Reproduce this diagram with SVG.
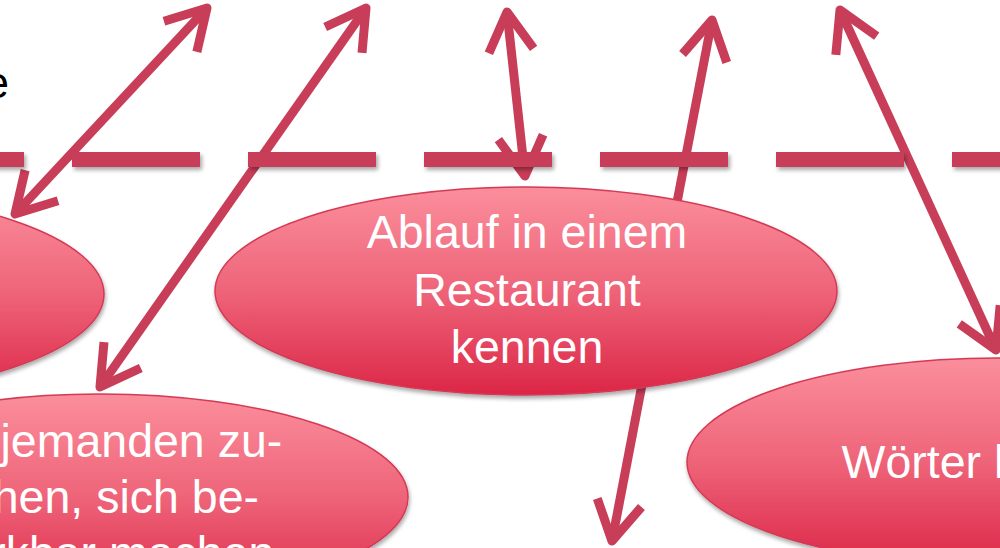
<svg xmlns="http://www.w3.org/2000/svg" width="1000" height="548" viewBox="0 0 1000 548">
  <defs>
    <linearGradient id="fillG" x1="0" y1="0" x2="0" y2="1">
      <stop offset="0" stop-color="#FB8E9C"/>
      <stop offset="0.5" stop-color="#EE6479"/>
      <stop offset="1" stop-color="#DC2647"/>
    </linearGradient>
    <filter id="sh" x="-10%" y="-10%" width="120%" height="130%">
      <feGaussianBlur in="SourceAlpha" stdDeviation="2"/>
      <feOffset dx="1" dy="3" result="b"/>
      <feComponentTransfer><feFuncA type="linear" slope="0.35"/></feComponentTransfer>
      <feMerge><feMergeNode/><feMergeNode in="SourceGraphic"/></feMerge>
    </filter>
    <filter id="dsh" filterUnits="userSpaceOnUse" x="-200" y="130" width="1400" height="60">
      <feGaussianBlur in="SourceAlpha" stdDeviation="2"/>
      <feOffset dx="2" dy="3" result="b"/>
      <feComponentTransfer><feFuncA type="linear" slope="0.35"/></feComponentTransfer>
      <feMerge><feMergeNode/><feMergeNode in="SourceGraphic"/></feMerge>
    </filter>
    <marker id="head" markerUnits="userSpaceOnUse" viewBox="-50 -30 60 60" markerWidth="60" markerHeight="60" refX="0" refY="0" orient="auto-start-reverse" overflow="visible">
      <path d="M -39 -22.5 L 0 0 L -39 22.5" fill="none" stroke="#C83D58" stroke-width="9" stroke-linejoin="round" stroke-linecap="butt"/>
    </marker>
    <style>
      .arr { fill: none; stroke: #C83D58; stroke-width: 9; marker-start: url(#head); marker-end: url(#head); }
      .dash { fill: none; stroke: #C83D58; stroke-width: 15; stroke-dasharray: 128 48; }
      .node ellipse { fill: url(#fillG); stroke: #D33A55; stroke-width: 1.5; }
      .lbl { font-family: "Liberation Sans", Arial, sans-serif; font-size: 46.5px; fill: #FFFFFF; text-anchor: middle; }
      .title { font-family: "Liberation Sans", Arial, sans-serif; font-size: 44px; fill: #000000; text-anchor: end; }
    </style>
  </defs>
  <rect x="0" y="0" width="1000" height="548" fill="#FFFFFF"/>
  <text class="title" x="9" y="98">e</text>

  <g id="connectors">
    <line class="arr" x1="207" y1="8" x2="15" y2="214"/>
    <line class="arr" x1="366" y1="8" x2="100" y2="387"/>
    <line class="arr" x1="507" y1="12" x2="525" y2="176"/>
    <line class="arr" x1="712" y1="20" x2="612" y2="541"/>
    <line class="arr" x1="840" y1="10" x2="996" y2="350"/>
    <path class="dash" d="M -104 159.5 H 1100" filter="url(#dsh)"/>
  </g>

  <g id="node-left" class="node">
    <ellipse cx="-207" cy="294" rx="311" ry="104" filter="url(#sh)"/>
  </g>
  <g id="node-ablauf" class="node">
    <ellipse cx="526" cy="291" rx="311" ry="104" filter="url(#sh)"/>
    <text class="lbl" x="527" y="248">Ablauf in einem</text>
    <text class="lbl" x="527" y="306">Restaurant</text>
    <text class="lbl" x="527" y="363">kennen</text>
  </g>
  <g id="node-jemanden" class="node">
    <ellipse cx="100" cy="497" rx="308" ry="103" filter="url(#sh)"/>
    <text class="lbl" x="100" y="457">Auf jemanden zu-</text>
    <text class="lbl" x="100" y="513">gehen, sich be-</text>
    <text class="lbl" x="100" y="569">merkbar machen</text>
  </g>
  <g id="node-woerter" class="node">
    <ellipse cx="998" cy="462" rx="311" ry="104" filter="url(#sh)"/>
    <text class="lbl" x="994" y="478">Wörter kennen</text>
  </g>
</svg>
